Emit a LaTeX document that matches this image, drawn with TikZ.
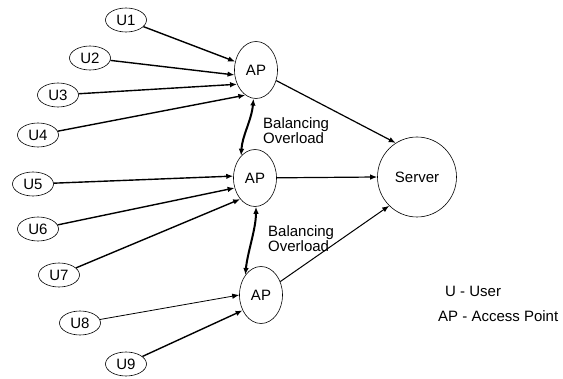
\documentclass[tikz,border=0pt]{standalone}
\usepackage{fontspec}
\setmainfont{Liberation Sans}
\usetikzlibrary{arrows.meta,shapes.geometric}

\begin{document}
\begin{tikzpicture}[x=1pt, y=-1pt,
	every node/.style = {font=\fontsize{15}{15}\selectfont},
	basic/.style  = {draw, ellipse, line width=0.6pt, inner sep=0pt},
	user/.style   = {basic, minimum width=41pt, minimum height=24pt},
	ap/.style     = {basic, minimum width=43pt, minimum height=57pt},
	server/.style = {basic, minimum width=79pt, minimum height=80pt},
	note/.style   = {align=left, inner sep=0pt, anchor=west},
	link/.style   = {-{Latex[length=7pt,width=5.5pt]}, line width=1.4pt},
	balance/.style = {{Latex[length=7pt,width=5.5pt]}-{Latex[length=7pt,width=5.5pt]}, line width=2pt}]

	\useasboundingbox (0,0) rectangle (563,379);

	% access points and the server
	\node[ap] (ap1) at (256,70) {AP};
	\node[ap] (ap2) at (255,178) {AP};
	\node[ap] (ap3) at (261,295) {AP};
	\node[server] (srv) at (417,177) {Server};

	% users
	\foreach \n/\x/\y in {1/126/20, 2/90/58, 3/58/95, 4/38/135, 5/33/184,
		6/38/229, 7/59/275, 8/80/323, 9/126/364}
	\node[user] (u\n) at (\x,\y) {U\n};

	% users to their access point
	\foreach \n/\a in {1/158, 2/193, 3/217, 4/247}
	\draw[link] (u\n) -- (ap1.\a);

	\foreach \n/\a in {5/175, 6/206, 7/235}
	\draw[link] (u\n) -- (ap2.\a);

	\draw[link, line width=0.8pt] (u8) -- (ap3.180);
	\draw[link] (u9) -- (ap3.220);

	% access points to the server
	\draw[link, line width=1.2pt] (ap1) -- (srv.122);
	\draw[link, line width=1.2pt] (ap2) -- (srv.180);
	\draw[link, line width=1pt] (ap3) -- (srv.226);

	% balancing between access points
	\draw[balance] (ap1.265) .. controls +(-2,22) and +(1,-20) .. (ap2.122);
	\draw[balance] (ap2.272) .. controls +(0,22) and +(2,-22) .. (ap3.128);

	\node[note] (bal1) at (263,131) {Balancing\\Overload};
	\node[note] (bal2) at (268,239) {Balancing\\Overload};

	% legend
	\node[note] (key1) at (445,291) {U - User};
	\node[note] (key2) at (438,316) {AP - Access Point};
\end{tikzpicture}
\end{document}
